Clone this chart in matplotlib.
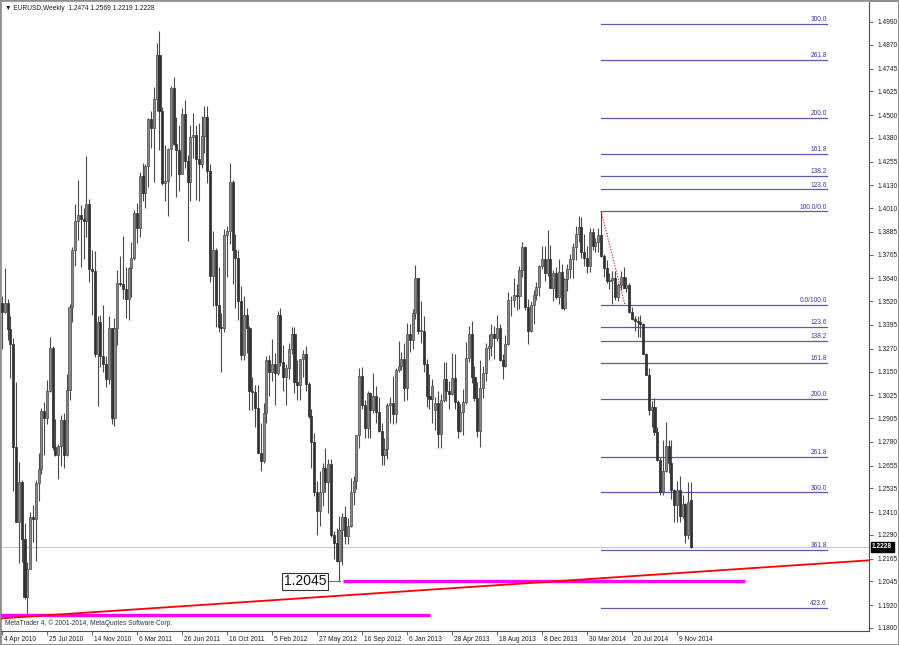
import matplotlib
matplotlib.use('Agg')
import matplotlib.pyplot as plt
import matplotlib.transforms as mtransforms
from matplotlib import font_manager
import numpy as np

# EURUSD weekly bars, one tuple per week: (open, high, low, close)
# 2010: weeks from 4 Apr 2010
bars_2010 = [
    (1.3510, 1.3548, 1.3268, 1.3462), (1.3462, 1.3694, 1.3457, 1.3510), (1.3510, 1.3530, 1.3316, 1.3375),
    (1.3375, 1.3440, 1.3115, 1.3295), (1.3295, 1.3325, 1.2523, 1.2755), (1.2755, 1.3094, 1.2356, 1.2359),
    (1.2359, 1.2673, 1.2143, 1.2570), (1.2570, 1.2580, 1.2150, 1.2270), (1.2270, 1.2353, 1.1955, 1.1965),
    (1.1965, 1.2150, 1.1876, 1.2110), (1.2110, 1.2410, 1.2109, 1.2385), (1.2385, 1.2446, 1.2253, 1.2375),
    (1.2375, 1.2579, 1.2152, 1.2565), (1.2565, 1.2720, 1.2466, 1.2635), (1.2635, 1.2960, 1.2610, 1.2940),
    (1.2940, 1.2990, 1.2710, 1.2905), (1.2905, 1.3106, 1.2875, 1.3045), (1.3045, 1.3334, 1.3040, 1.3275),
    (1.3275, 1.3285, 1.2735, 1.2755), (1.2755, 1.2900, 1.2705, 1.2710), (1.2710, 1.2768, 1.2586, 1.2760),
    (1.2760, 1.2920, 1.2654, 1.2895), (1.2895, 1.2934, 1.2640, 1.2710), (1.2710, 1.3135, 1.2705, 1.3055),
    (1.3055, 1.3507, 1.3000, 1.3490), (1.3490, 1.3806, 1.3410, 1.3790), (1.3790, 1.4030, 1.3705, 1.3940),
    (1.3940, 1.4157, 1.3840, 1.3975), (1.3975, 1.4025, 1.3699, 1.3955), (1.3955, 1.4010, 1.3740, 1.3940),
    (1.3940, 1.4282, 1.3860, 1.4030), (1.4030, 1.4060, 1.3620, 1.3690), (1.3690, 1.3790, 1.3445, 1.3680),
    (1.3680, 1.3785, 1.3225, 1.3240), (1.3240, 1.3440, 1.2968, 1.3410), (1.3410, 1.3449, 1.3175, 1.3230),
    (1.3230, 1.3500, 1.3145, 1.3190), (1.3190, 1.3233, 1.3070, 1.3110), (1.3110, 1.3440, 1.3086, 1.3380),
]
bars_2011 = [
    (1.3380, 1.3380, 1.2873, 1.2905), (1.2905, 1.3434, 1.2861, 1.3380), (1.3380, 1.3686, 1.3290, 1.3615),
    (1.3615, 1.3760, 1.3600, 1.3610), (1.3610, 1.3862, 1.3530, 1.3585), (1.3585, 1.3700, 1.3430, 1.3530),
    (1.3530, 1.3700, 1.3420, 1.3695), (1.3695, 1.3830, 1.3540, 1.3750), (1.3750, 1.4000, 1.3735, 1.3985),
    (1.3985, 1.4035, 1.3826, 1.3905), (1.3905, 1.4200, 1.3860, 1.4180), (1.4180, 1.4250, 1.4050, 1.4090),
    (1.4090, 1.4245, 1.4010, 1.4230), (1.4230, 1.4485, 1.4120, 1.4480), (1.4480, 1.4520, 1.4325, 1.4430),
    (1.4430, 1.4648, 1.4150, 1.4585), (1.4585, 1.4880, 1.4520, 1.4815), (1.4815, 1.4940, 1.4315, 1.4520),
    (1.4520, 1.4545, 1.4130, 1.4140), (1.4140, 1.4345, 1.4050, 1.4155), (1.4155, 1.4327, 1.3970, 1.4320),
    (1.4320, 1.4651, 1.4180, 1.4640), (1.4640, 1.4700, 1.4340, 1.4350), (1.4350, 1.4490, 1.4070, 1.4315),
    (1.4315, 1.4450, 1.4100, 1.4190), (1.4190, 1.4535, 1.4190, 1.4505), (1.4505, 1.4580, 1.4220, 1.4260),
    (1.4260, 1.4290, 1.3835, 1.4150), (1.4150, 1.4450, 1.4050, 1.4385), (1.4385, 1.4512, 1.4275, 1.4395),
    (1.4395, 1.4450, 1.4055, 1.4270), (1.4270, 1.4460, 1.4050, 1.4240), (1.4240, 1.4495, 1.4220, 1.4390),
    (1.4390, 1.4547, 1.4300, 1.4490), (1.4490, 1.4550, 1.4140, 1.4205), (1.4205, 1.4240, 1.3620, 1.3655),
    (1.3655, 1.3890, 1.3495, 1.3790), (1.3790, 1.3800, 1.3385, 1.3500), (1.3500, 1.3700, 1.3360, 1.3385),
    (1.3385, 1.3460, 1.3145, 1.3380), (1.3380, 1.3900, 1.3360, 1.3870), (1.3870, 1.3915, 1.3650, 1.3890),
    (1.3890, 1.4248, 1.3820, 1.4150), (1.4150, 1.4160, 1.3610, 1.3790), (1.3790, 1.3875, 1.3485, 1.3750),
    (1.3750, 1.3790, 1.3420, 1.3520), (1.3520, 1.3600, 1.3212, 1.3235), (1.3235, 1.3550, 1.3210, 1.3450),
    (1.3450, 1.3487, 1.3250, 1.3380), (1.3380, 1.3390, 1.2945, 1.3045), (1.3045, 1.3120, 1.2945, 1.3040),
    (1.3040, 1.3080, 1.2858, 1.2960),
]
bars_2012 = [
    (1.2960, 1.3080, 1.2720, 1.2720), (1.2720, 1.2880, 1.2625, 1.2680), (1.2680, 1.2985, 1.2670, 1.2930),
    (1.2930, 1.3230, 1.2880, 1.3210), (1.3210, 1.3235, 1.3020, 1.3150), (1.3150, 1.3322, 1.3100, 1.3190),
    (1.3190, 1.3250, 1.2975, 1.3140), (1.3140, 1.3470, 1.3130, 1.3450), (1.3450, 1.3486, 1.3180, 1.3200),
    (1.3200, 1.3290, 1.3050, 1.3120), (1.3120, 1.3190, 1.2975, 1.3170), (1.3170, 1.3300, 1.3110, 1.3270),
    (1.3270, 1.3385, 1.3240, 1.3345), (1.3345, 1.3385, 1.3035, 1.3095), (1.3095, 1.3210, 1.3000, 1.3080),
    (1.3080, 1.3215, 1.3000, 1.3215), (1.3215, 1.3262, 1.3120, 1.3240), (1.3240, 1.3285, 1.3050, 1.3085),
    (1.3085, 1.3095, 1.2905, 1.2915), (1.2915, 1.2955, 1.2640, 1.2780), (1.2780, 1.2825, 1.2495, 1.2515),
    (1.2515, 1.2575, 1.2288, 1.2415), (1.2415, 1.2625, 1.2335, 1.2515), (1.2515, 1.2670, 1.2440, 1.2640),
    (1.2640, 1.2748, 1.2515, 1.2570), (1.2570, 1.2690, 1.2405, 1.2665), (1.2665, 1.2690, 1.2280, 1.2290),
    (1.2290, 1.2310, 1.2165, 1.2245), (1.2245, 1.2325, 1.2145, 1.2155), (1.2155, 1.2390, 1.2042, 1.2315),
    (1.2315, 1.2404, 1.2134, 1.2385), (1.2385, 1.2443, 1.2240, 1.2285), (1.2285, 1.2380, 1.2240, 1.2335),
    (1.2335, 1.2590, 1.2330, 1.2515), (1.2515, 1.2600, 1.2450, 1.2575), (1.2575, 1.2815, 1.2530, 1.2815),
    (1.2815, 1.3168, 1.2750, 1.3125), (1.3125, 1.3172, 1.2955, 1.2975), (1.2975, 1.3000, 1.2800, 1.2855),
    (1.2855, 1.3045, 1.2800, 1.3035), (1.3035, 1.3040, 1.2800, 1.2950), (1.2950, 1.3140, 1.2930, 1.3020),
    (1.3020, 1.3075, 1.2880, 1.2935), (1.2935, 1.3015, 1.2830, 1.2835), (1.2835, 1.2880, 1.2660, 1.2710),
    (1.2710, 1.2800, 1.2660, 1.2740), (1.2740, 1.2985, 1.2690, 1.2975), (1.2975, 1.3015, 1.2880, 1.2985),
    (1.2985, 1.3125, 1.2875, 1.2925), (1.2925, 1.3170, 1.2880, 1.3160), (1.3160, 1.3310, 1.3150, 1.3180),
    (1.3180, 1.3255, 1.3160, 1.3215), (1.3215, 1.3300, 1.2995, 1.3065),
]
bars_2013 = [
    (1.3065, 1.3405, 1.3000, 1.3345), (1.3345, 1.3400, 1.3255, 1.3315), (1.3315, 1.3480, 1.3270, 1.3460),
    (1.3460, 1.3710, 1.3425, 1.3640), (1.3640, 1.3640, 1.3350, 1.3365), (1.3365, 1.3520, 1.3300, 1.3365),
    (1.3365, 1.3440, 1.3145, 1.3190), (1.3190, 1.3215, 1.2965, 1.3020), (1.3020, 1.3135, 1.2955, 1.3005),
    (1.3005, 1.3110, 1.2880, 1.3075), (1.2950, 1.3015, 1.2840, 1.2985), (1.2985, 1.3050, 1.2750, 1.2820),
    (1.2820, 1.3030, 1.2745, 1.3000), (1.3000, 1.3200, 1.2990, 1.3110), (1.3110, 1.3200, 1.2995, 1.3050),
    (1.3050, 1.3100, 1.2955, 1.3030), (1.3030, 1.3245, 1.3025, 1.3115), (1.3115, 1.3240, 1.2955, 1.2990),
    (1.2990, 1.3000, 1.2800, 1.2835), (1.2835, 1.2980, 1.2830, 1.2935), (1.2935, 1.3060, 1.2815, 1.2990),
    (1.2990, 1.3305, 1.2980, 1.3220), (1.3220, 1.3390, 1.3200, 1.3345), (1.3345, 1.3415, 1.3090, 1.3120),
    (1.3120, 1.3180, 1.2995, 1.3010), (1.3010, 1.3095, 1.2805, 1.2835), (1.2835, 1.3210, 1.2755, 1.3065),
    (1.3065, 1.3180, 1.3010, 1.3140), (1.3140, 1.3300, 1.3100, 1.3275), (1.3275, 1.3345, 1.3210, 1.3285),
    (1.3285, 1.3400, 1.3230, 1.3345), (1.3345, 1.3390, 1.3215, 1.3325), (1.3325, 1.3450, 1.3310, 1.3380),
    (1.3380, 1.3400, 1.3205, 1.3210), (1.3210, 1.3240, 1.3110, 1.3180), (1.3180, 1.3340, 1.3175, 1.3295),
    (1.3295, 1.3570, 1.3290, 1.3525), (1.3525, 1.3545, 1.3440, 1.3525), (1.3525, 1.3645, 1.3490, 1.3555),
    (1.3555, 1.3610, 1.3475, 1.3545), (1.3545, 1.3705, 1.3480, 1.3685), (1.3685, 1.3830, 1.3650, 1.3805),
    (1.3805, 1.3810, 1.3475, 1.3490), (1.3490, 1.3530, 1.3295, 1.3365), (1.3365, 1.3520, 1.3360, 1.3500),
    (1.3500, 1.3580, 1.3400, 1.3555), (1.3555, 1.3620, 1.3525, 1.3595), (1.3595, 1.3710, 1.3545, 1.3705),
    (1.3705, 1.3810, 1.3690, 1.3745), (1.3745, 1.3810, 1.3625, 1.3670), (1.3670, 1.3895, 1.3655, 1.3745),
    (1.3745, 1.3815, 1.3590, 1.3590),
]
bars_2014 = [
    (1.3590, 1.3685, 1.3520, 1.3670), (1.3670, 1.3700, 1.3530, 1.3540), (1.3540, 1.3740, 1.3505, 1.3675),
    (1.3675, 1.3715, 1.3480, 1.3485), (1.3485, 1.3645, 1.3475, 1.3635), (1.3635, 1.3715, 1.3575, 1.3690),
    (1.3690, 1.3770, 1.3640, 1.3740), (1.3740, 1.3825, 1.3640, 1.3805), (1.3805, 1.3915, 1.3735, 1.3875),
    (1.3875, 1.3967, 1.3830, 1.3910), (1.3910, 1.3965, 1.3750, 1.3780), (1.3780, 1.3875, 1.3705, 1.3750),
    (1.3750, 1.3810, 1.3670, 1.3705), (1.3705, 1.3905, 1.3675, 1.3885), (1.3885, 1.3905, 1.3790, 1.3810),
    (1.3810, 1.3855, 1.3780, 1.3830), (1.3830, 1.3905, 1.3780, 1.3870), (1.3870, 1.3993, 1.3755, 1.3757),
    (1.3757, 1.3770, 1.3648, 1.3697), (1.3697, 1.3735, 1.3615, 1.3627), (1.3627, 1.3670, 1.3586, 1.3634),
    (1.3634, 1.3677, 1.3503, 1.3642), (1.3642, 1.3677, 1.3526, 1.3542), (1.3542, 1.3614, 1.3522, 1.3606),
    (1.3606, 1.3678, 1.3579, 1.3647), (1.3647, 1.3701, 1.3591, 1.3592), (1.3592, 1.3649, 1.3570, 1.3604),
    (1.3604, 1.3615, 1.3460, 1.3465), (1.3465, 1.3491, 1.3422, 1.3429), (1.3429, 1.3444, 1.3366, 1.3415),
    (1.3415, 1.3443, 1.3333, 1.3410), (1.3410, 1.3445, 1.3331, 1.3400), (1.3400, 1.3403, 1.3240, 1.3240),
    (1.3240, 1.3245, 1.3130, 1.3132), (1.3132, 1.3170, 1.2920, 1.2950), (1.2950, 1.2994, 1.2860, 1.2962),
    (1.2962, 1.3010, 1.2815, 1.2830), (1.2830, 1.2860, 1.2680, 1.2682), (1.2682, 1.2700, 1.2500, 1.2515),
    (1.2515, 1.2791, 1.2500, 1.2628), (1.2628, 1.2887, 1.2622, 1.2760), (1.2760, 1.2790, 1.2615, 1.2669),
    (1.2669, 1.2790, 1.2479, 1.2525), (1.2525, 1.2530, 1.2357, 1.2450), (1.2450, 1.2575, 1.2359, 1.2525),
    (1.2525, 1.2600, 1.2360, 1.2391), (1.2391, 1.2500, 1.2380, 1.2452), (1.2452, 1.2456, 1.2247, 1.2288),
    (1.2288, 1.2570, 1.2270, 1.2465), (1.2474, 1.2569, 1.2219, 1.2228),
]

date_labels = ['4 Apr 2010', '25 Jul 2010', '14 Nov 2010', '6 Mar 2011', '26 Jun 2011', '16 Oct 2011',
               '5 Feb 2012', '27 May 2012', '16 Sep 2012', '6 Jan 2013', '28 Apr 2013', '18 Aug 2013',
               '8 Dec 2013', '30 Mar 2014', '20 Jul 2014', '9 Nov 2014']
date_bars = [0, 16, 32, 48, 64, 80, 96, 112, 128, 144, 160, 176, 192, 208, 224, 240]
price_labels = ['1.4990', '1.4870', '1.4745', '1.4625', '1.4500', '1.4380', '1.4255', '1.4130', '1.4010',
                '1.3885', '1.3765', '1.3640', '1.3520', '1.3395', '1.3270', '1.3150', '1.3025', '1.2905',
                '1.2780', '1.2655', '1.2535', '1.2410', '1.2290', '1.2165', '1.2045', '1.1920', '1.1800']

bid = 1.2228
header = '\u25bc EURUSD,Weekly  1.2474 1.2569 1.2219 1.2228'

# fibonacci objects (high of 4 May 2014 week to the June low)
fib_high, fib_low = 1.3993, 1.3500
fib_start_bar, fib_low_bar, fib_end_bar = 213, 221.5, 293.3
fib_up = [123.6, 138.2, 161.8, 200.0, 261.8, 300.0]
fib_down = [123.6, 138.2, 161.8, 200.0, 261.8, 300.0, 361.8, 423.6]

support = 1.2045
support_bars = (121.3, 264.2)
old_low = 1.1866
old_low_bars = (-1, 152.2)
trend_pts = [(9, 1.1860), (307, 1.2155)]

names = {f.name for f in font_manager.fontManager.ttflist}
narrow = 'Liberation Sans Narrow' in names
small_font = ['Liberation Sans Narrow', 'DejaVu Sans'] if narrow else ['Liberation Sans', 'DejaVu Sans']
small = 5.5 if narrow else 4.8

fig = plt.figure(figsize=(8.99, 6.45), dpi=100)
fig.patch.set_facecolor('white')
ax = fig.add_axes([1 / 899, 14 / 645, 868 / 899, 630 / 645])
ax.set_xlim(-0.356, 308.27)
ax.set_ylim(1.17842, 1.51005)

bars = bars_2010 + bars_2011 + bars_2012 + bars_2013 + bars_2014
o, h, l, c = np.array(bars).T
x = np.arange(len(bars))
up = c >= o
body_lo = np.minimum(o, c)
body_h = np.maximum(np.abs(c - o), 0.0004)

# bid line
ax.axhline(bid, color='#c8c8c8', lw=0.8, zorder=1)

ax.vlines(x, l, h, color='#4a4a4a', lw=0.8, zorder=2)
ax.bar(x[up], body_h[up], bottom=body_lo[up], width=0.72, color='#888888',
       edgecolor='#484848', linewidth=0.5, zorder=3)
ax.bar(x[~up], body_h[~up], bottom=body_lo[~up], width=0.72, color='#333333',
       edgecolor='#2a2a2a', linewidth=0.5, zorder=3)

# fibo levels
rng = fib_high - fib_low
fib_col = '#3f3f9f'
levels = [(fib_high, '100.0/0.0'), (fib_low, '0.0/100.0')]
levels += [(fib_low + lv / 100 * rng, '%.1f' % lv) for lv in fib_up]
levels += [(fib_high - lv / 100 * rng, '%.1f' % lv) for lv in fib_down]
for price, txt in levels:
    ax.plot([fib_start_bar, fib_end_bar], [price, price], color=fib_col, lw=0.9, alpha=0.85, zorder=2)
    ax.text(fib_end_bar, price + 0.0004, txt, ha='right', va='bottom', fontsize=small,
            color=fib_col, family=small_font)
ax.plot([fib_start_bar, fib_low_bar], [fib_high, fib_low], color='red', lw=0.8,
        linestyle=(0, (1, 1.5)), zorder=4)

# trend line and horizontal levels
(x1, y1), (x2, y2) = trend_pts
slope = (y2 - y1) / (x2 - x1)
tx = np.array([-1, 310])
ax.plot(tx, y1 + slope * (tx - x1), color='#ff0000', lw=1.3, zorder=5)
ax.plot(support_bars, [support, support], color='#ff00ff', lw=2.4, solid_capstyle='butt', zorder=4)
ax.plot(old_low_bars, [old_low, old_low], color='#ff00ff', lw=2.4, solid_capstyle='butt', zorder=4)

ax.plot([115.6, 120.3], [support, support], color='#707070', lw=0.8, zorder=4)
ax.text(115.3, support, '1.2045', ha='right', va='center',
        fontsize=12.5 if narrow else 10, family=small_font[:1] + ['DejaVu Sans'], color='#111111',
        bbox=dict(boxstyle='square,pad=0.1', fc='white', ec='#333333', lw=0.8), zorder=6)

# axes cosmetics
for side in ['left', 'top']:
    ax.spines[side].set_color('#a0a0a0')
    ax.spines[side].set_linewidth(0.8)
for side in ['right', 'bottom']:
    ax.spines[side].set_color('#505050')
    ax.spines[side].set_linewidth(0.8)

ax.yaxis.tick_right()
ax.set_yticks([float(s) for s in price_labels], price_labels)
ax.tick_params(axis='y', length=3, width=0.6, color='#505050', labelsize=small, pad=3,
               labelcolor='#222222')
ax.set_xticks(date_bars, date_labels)
ax.tick_params(axis='x', length=3, width=0.6, color='#505050', labelsize=small, pad=0.5,
               labelcolor='#222222')
offset = mtransforms.ScaledTranslation(2 / 100, 0, fig.dpi_scale_trans)
for lab in ax.get_xticklabels():
    lab.set_horizontalalignment('left')
    lab.set_transform(lab.get_transform() + offset)
for lab in ax.get_xticklabels() + ax.get_yticklabels():
    lab.set_family(small_font)

trans = mtransforms.blended_transform_factory(ax.transAxes, ax.transData)
ax.text(1.0035, bid, '1.2228', transform=trans, ha='left', va='center', fontsize=small,
        color='white', fontweight='bold', family=small_font,
        bbox=dict(boxstyle='square,pad=0.22', fc='black', ec='black'), zorder=7)

fig.text(5 / 899, 1 - 8 / 645, header, fontsize=small, color='#222222', va='center',
         family=small_font)
ax.text(4 / 868, 4 / 630, 'MetaTrader 4, \u00a9 2001-2014, MetaQuotes Software Corp.',
        transform=ax.transAxes, fontsize=small, color='#333333', va='bottom', family=small_font)

fig.patch.set_edgecolor('#909090')
fig.patch.set_linewidth(1)

fig.savefig('out.png', dpi=100, facecolor=fig.get_facecolor(), edgecolor=fig.get_edgecolor())
